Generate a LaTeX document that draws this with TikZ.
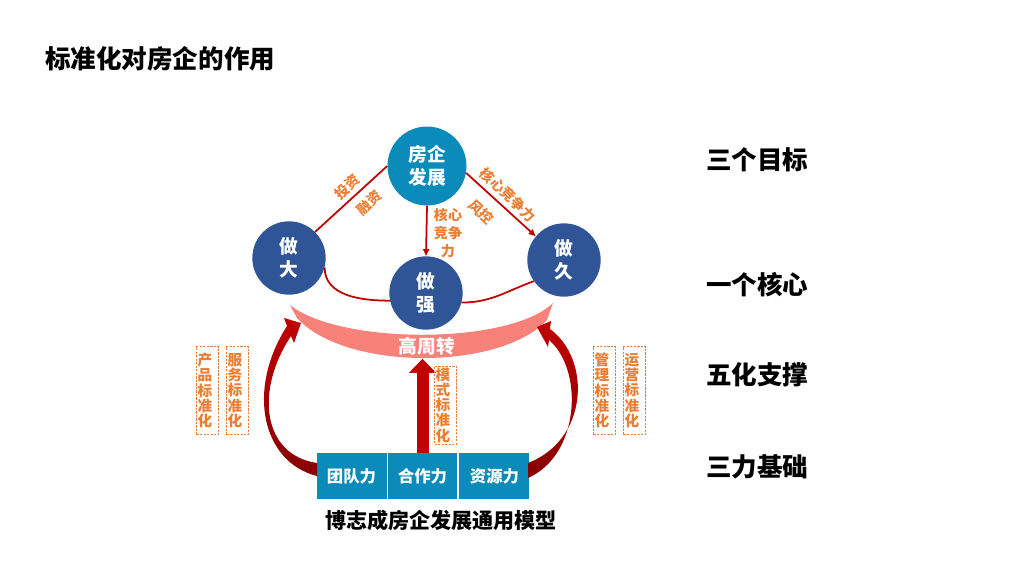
\documentclass[tikz,border=0pt]{standalone}
\usepackage{fontspec}
\setmainfont{Noto Sans CJK SC}
\usetikzlibrary{arrows.meta, positioning, calc}
\definecolor{bzTeal}  {HTML}{0B8BBA}
\definecolor{bzBlue}  {HTML}{2F5597}
\definecolor{bzRed}   {HTML}{C00000}
\definecolor{bzDark}  {HTML}{870000}
\definecolor{bzPink}  {HTML}{F8817A}
\definecolor{bzOrange}{HTML}{ED7D31}
\tikzset{
  goal/.style  = {circle, fill=bzBlue, text=white, minimum size=2.2cm,
                  inner sep=0pt, align=center,
                  font=\fontsize{16}{19.5}\selectfont\bfseries},
  base/.style  = {rectangle, fill=bzTeal, text=white, minimum width=2.1cm,
                  minimum height=1.38cm, inner sep=0pt,
                  font=\fontsize{14}{16}\selectfont\bfseries},
  stdbox/.style= {rectangle, draw=bzOrange, dashed, dash pattern=on 2pt off 1pt,
                  text=bzOrange, text width=0.6cm, align=left,
                  inner xsep=0.03cm, inner ysep=0pt, minimum height=2.64cm,
                  font=\fontsize{12.5}{13}\selectfont\bfseries},
  lbl/.style   = {text=bzOrange, inner sep=0pt,
                  font=\fontsize{12}{15.5}\selectfont\bfseries},
  tier/.style  = {anchor=west, inner sep=0pt,
                  font=\fontsize{21.8}{25}\selectfont\bfseries},
  link/.style  = {draw=bzRed, line width=1.5pt},
  arrow/.style = {link, -{Triangle[length=6pt, width=5pt]}},
}
\begin{document}
\begin{tikzpicture}[x=0.03cm, y=-0.03cm]
\useasboundingbox (0,0) rectangle (1024,576);

% Title
\node[tier] (title) at (45,59) {标准化对房企的作用};

% Band
\fill[bzPink] (290,305) .. controls (340,345) and (510,345) .. (553,303)
  -- (547,320) .. controls (500,371) and (345,371) .. (297,318) -- cycle;
\node[text=white, inner sep=0pt, font=\fontsize{16}{18}\selectfont\bfseries]
  (gzz) at (427,346) {高周转};

% Goals
\node[goal, fill=bzTeal, minimum size=2.37cm] (fq) at (427,166) {房企\\发展};
\node[goal] (zd) at (289,258) {做\\大};
\node[goal] (zq) at (426,293) {做\\强};
\node[goal] (zj) at (564,260) {做\\久};

% Links
\draw[link]  (fq.180) -- (zd.north east);
\draw[arrow] (fq.south) -- (zq.north);
\draw[arrow] (fq.-10) -- (zj.140);
\draw[link]  (zd.-15) to[out=-90, in=180] (zq.192);
\draw[link]  (zq.-15) to[out=0, in=200] (zj.215);

% Link labels
\node[lbl, rotate=42]  (tz) at (347,187) {投资};
\node[lbl, rotate=42]  (rz) at (369,203) {融资};
\node[lbl, rotate=-44] (hx) at (508,195) {核心竞争力};
\node[lbl, rotate=-44] (fk) at (481,212) {风控};
\node[lbl, align=center] (hxc) at (448,233) {核心\\竞争\\力};

% Bases
\node[base, minimum width=2.07cm] (hz) at (422.5,476) {合作力};
\node[base, left=0.03cm of hz]  (td) {团队力};
\node[base, right=0.06cm of hz] (zy) {资源力};

% Big arrows
\shade[top color=bzRed, bottom color=bzDark]
  (317,476) .. controls (262,462) and (246,390) .. (287,326)
  -- (284,318) -- (301,323) -- (294,343) -- (291,336)
  .. controls (255,390) and (262,455) .. (317,463) -- cycle;
\shade[top color=bzRed, bottom color=bzDark]
  (528,463) .. controls (588,440) and (592,360) .. (550,329)
  -- (551,321) -- (537,327) -- (548,347) -- (549,340)
  .. controls (584,370) and (580,455) .. (528,478) -- cycle;
\draw[bzRed, line width=0.36cm, -{Triangle[length=0.42cm, width=0.78cm]}]
  (hz.north) -- ++(0,-94);

% Standards
\node[stdbox] (cp) at (207.5,390.5) {产\\品\\标\\准\\化};
\node[stdbox] (fw) at (237.5,390.5) {服\\务\\标\\准\\化};
\node[stdbox, minimum height=2.34cm] (ms) at (445.5,405) {模\\式\\标\\准\\化};
\node[stdbox] (gl) at (604.5,390.5) {管\\理\\标\\准\\化};
\node[stdbox] (yy) at (634.5,390.5) {运\\营\\标\\准\\化};

% Caption
\node[inner sep=0pt, font=\fontsize{18}{20}\selectfont\bfseries]
  (cap) at (441,520) {博志成房企发展通用模型};

% Tiers
\node[tier] (t1) at (706,160) {三个目标};
\node[tier] (t2) at (706,285) {一个核心};
\node[tier] (t3) at (706,375) {五化支撑};
\node[tier] (t4) at (706,467) {三力基础};

\end{tikzpicture}
\end{document}
